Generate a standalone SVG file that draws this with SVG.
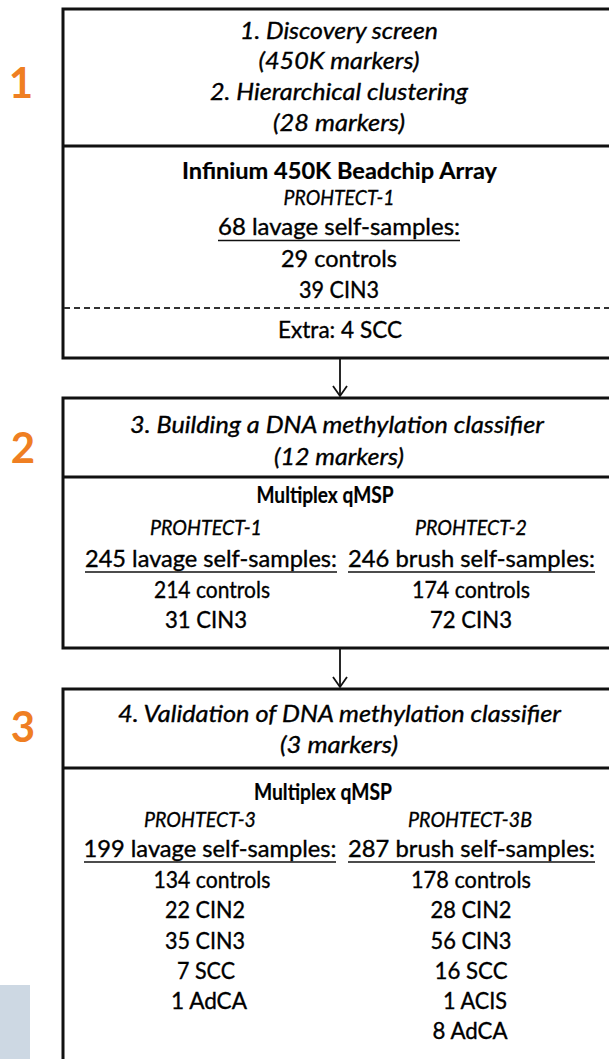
<svg xmlns="http://www.w3.org/2000/svg" width="609" height="1059" viewBox="0 0 609 1059">
<style>
.box{fill:#fff;stroke:#111;stroke-width:3}
.div{stroke:#111;stroke-width:3}
.dash{stroke:#333;stroke-width:2;stroke-dasharray:6 4}
.ul{stroke:#111;stroke-width:1.7}
.t{font-family:Lato,"Liberation Sans",sans-serif;font-size:23px;fill:#000;stroke:#000;stroke-width:0.35;text-anchor:middle}
.i{font-style:italic}
.b{font-weight:bold;stroke-width:0.2}
.s{font-size:22px}
.num{font-family:Lato,"Liberation Sans",sans-serif;font-size:42px;font-weight:bold;fill:#EF7F22;text-anchor:middle}
.conn{stroke:#111;stroke-width:1.8;fill:none}
</style>
<rect x="0" y="985" width="30" height="74" fill="#CDD8E3"/>
<g id="label-1"><text class="num" x="21" y="98">1</text></g>
<g id="label-2"><text class="num" x="23" y="463">2</text></g>
<g id="label-3"><text class="num" x="23" y="742">3</text></g>
<g id="box1">
<rect class="box" x="63" y="9" width="554" height="349"/>
<line class="div" x1="63" y1="146" x2="617" y2="146"/>
<line class="dash" x1="64" y1="308" x2="617" y2="308"/>
<text class="t i" x="339" y="39" textLength="198" lengthAdjust="spacingAndGlyphs">1. Discovery screen</text>
<text class="t i" x="339" y="69" textLength="161" lengthAdjust="spacingAndGlyphs">(450K markers)</text>
<text class="t i" x="339" y="100" textLength="258" lengthAdjust="spacingAndGlyphs">2. Hierarchical clustering</text>
<text class="t i" x="339" y="131" textLength="132" lengthAdjust="spacingAndGlyphs">(28 markers)</text>
<text class="t b" x="339.5" y="179" textLength="315" lengthAdjust="spacingAndGlyphs">Infinium 450K Beadchip Array</text>
<text class="t i s" x="339" y="205" textLength="111" lengthAdjust="spacingAndGlyphs">PROHTECT-1</text>
<text class="t" x="339" y="235" textLength="242" lengthAdjust="spacingAndGlyphs">68 lavage self-samples:</text>
<line class="ul" x1="218" y1="240.5" x2="460" y2="240.5"/>
<text class="t" x="339" y="267" textLength="116" lengthAdjust="spacingAndGlyphs">29 controls</text>
<text class="t" x="339" y="298" textLength="80" lengthAdjust="spacingAndGlyphs">39 CIN3</text>
<text class="t" x="340" y="338" textLength="124" lengthAdjust="spacingAndGlyphs">Extra: 4 SCC</text>
</g>
<g id="box2">
<rect class="box" x="63" y="398" width="554" height="250"/>
<line class="div" x1="63" y1="477" x2="617" y2="477"/>
<text class="t i" x="337" y="433" textLength="414" lengthAdjust="spacingAndGlyphs">3. Building a DNA methylation classifier</text>
<text class="t i" x="339" y="465" textLength="130" lengthAdjust="spacingAndGlyphs">(12 markers)</text>
<text class="t b" x="325" y="503" textLength="137" lengthAdjust="spacingAndGlyphs">Multiplex qMSP</text>
<text class="t i s" x="206" y="535" textLength="112" lengthAdjust="spacingAndGlyphs">PROHTECT-1</text>
<text class="t i s" x="471" y="535" textLength="112" lengthAdjust="spacingAndGlyphs">PROHTECT-2</text>
<text class="t" x="211" y="567" textLength="252" lengthAdjust="spacingAndGlyphs">245 lavage self-samples:</text>
<line class="ul" x1="85" y1="572" x2="337" y2="572"/>
<text class="t" x="471.5" y="567" textLength="247" lengthAdjust="spacingAndGlyphs">246 brush self-samples:</text>
<line class="ul" x1="348" y1="572" x2="595" y2="572"/>
<text class="t" x="212" y="598" textLength="116" lengthAdjust="spacingAndGlyphs">214 controls</text>
<text class="t" x="471" y="598" textLength="118" lengthAdjust="spacingAndGlyphs">174 controls</text>
<text class="t" x="206" y="628" textLength="82" lengthAdjust="spacingAndGlyphs">31 CIN3</text>
<text class="t" x="471" y="628" textLength="82" lengthAdjust="spacingAndGlyphs">72 CIN3</text>
</g>
<g id="box3">
<rect class="box" x="63" y="689" width="554" height="400"/>
<line class="div" x1="63" y1="768" x2="617" y2="768"/>
<text class="t i" x="339.5" y="722" textLength="443" lengthAdjust="spacingAndGlyphs">4. Validation of DNA methylation classifier</text>
<text class="t i" x="339" y="753" textLength="118" lengthAdjust="spacingAndGlyphs">(3 markers)</text>
<text class="t b" x="323" y="800" textLength="138" lengthAdjust="spacingAndGlyphs">Multiplex qMSP</text>
<text class="t i s" x="200" y="827" textLength="112" lengthAdjust="spacingAndGlyphs">PROHTECT-3</text>
<text class="t i s" x="470" y="827" textLength="124" lengthAdjust="spacingAndGlyphs">PROHTECT-3B</text>
<text class="t" x="210" y="857" textLength="253" lengthAdjust="spacingAndGlyphs">199 lavage self-samples:</text>
<line class="ul" x1="84" y1="862" x2="336" y2="862"/>
<text class="t" x="471.5" y="857" textLength="247" lengthAdjust="spacingAndGlyphs">287 brush self-samples:</text>
<line class="ul" x1="348" y1="862" x2="595" y2="862"/>
<text class="t" x="212" y="888" textLength="117" lengthAdjust="spacingAndGlyphs">134 controls</text>
<text class="t" x="471" y="888" textLength="120" lengthAdjust="spacingAndGlyphs">178 controls</text>
<text class="t" x="205" y="918" textLength="80" lengthAdjust="spacingAndGlyphs">22 CIN2</text>
<text class="t" x="471" y="918" textLength="81" lengthAdjust="spacingAndGlyphs">28 CIN2</text>
<text class="t" x="205" y="949" textLength="80" lengthAdjust="spacingAndGlyphs">35 CIN3</text>
<text class="t" x="471" y="949" textLength="81" lengthAdjust="spacingAndGlyphs">56 CIN3</text>
<text class="t" x="206" y="979" textLength="58" lengthAdjust="spacingAndGlyphs">7 SCC</text>
<text class="t" x="471" y="979" textLength="73" lengthAdjust="spacingAndGlyphs">16 SCC</text>
<text class="t" x="209" y="1009" textLength="76" lengthAdjust="spacingAndGlyphs">1 AdCA</text>
<text class="t" x="475" y="1009" textLength="64" lengthAdjust="spacingAndGlyphs">1 ACIS</text>
<text class="t" x="470" y="1039" textLength="75" lengthAdjust="spacingAndGlyphs">8 AdCA</text>
</g>
<g id="connectors">
<line class="conn" x1="340" y1="359" x2="340" y2="396"/>
<polyline class="conn" points="333,386 340,396 347,386"/>
<line class="conn" x1="340" y1="649" x2="340" y2="687"/>
<polyline class="conn" points="333,677 340,687 347,677"/>
</g>
</svg>
